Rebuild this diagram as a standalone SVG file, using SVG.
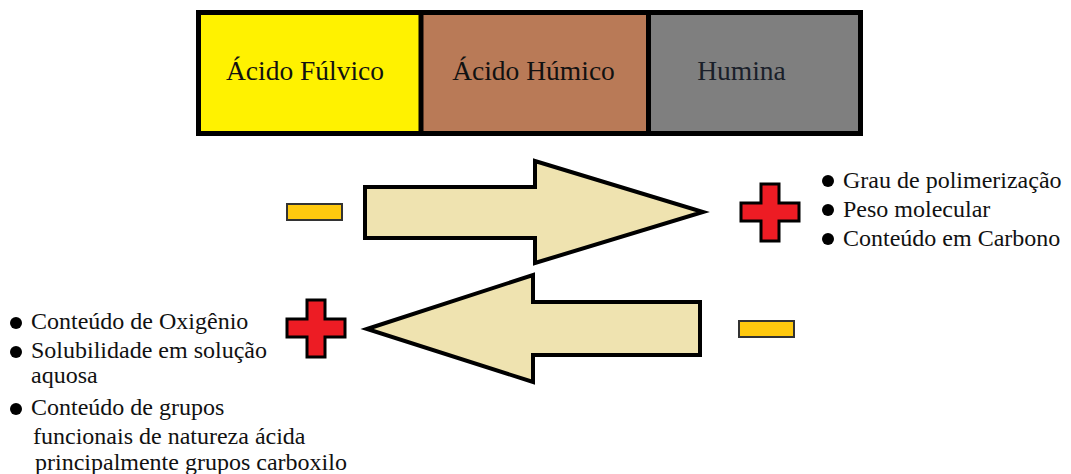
<svg xmlns="http://www.w3.org/2000/svg" width="1071" height="474" viewBox="0 0 1071 474">
<style>
text{font-family:"Liberation Serif","Times New Roman",serif;fill:#111;}
.h{font-size:27.5px;}
.b{font-size:24px;}
.arrow{fill:#efe3b0;stroke:#000;stroke-width:4;stroke-linejoin:miter;}
.minus{fill:#ffc90e;stroke:#333;stroke-width:2;}
.plus{fill:#ed1c24;stroke:#000;stroke-width:3;stroke-linejoin:miter;}
.dot{fill:#000;}
</style>
<rect width="1071" height="474" fill="#fff"/>
<g id="scale">
  <g id="fulvico">
    <rect x="198.5" y="12.5" width="222" height="121" fill="#fff200"/>
    <text class="h" x="305" y="80" text-anchor="middle">Ácido Fúlvico</text>
  </g>
  <g id="humico">
    <rect x="420.5" y="12.5" width="228" height="121" fill="#b97a57"/>
    <text class="h" x="533.5" y="80" text-anchor="middle">Ácido Húmico</text>
  </g>
  <g id="humina">
    <rect x="648.5" y="12.5" width="212" height="121" fill="#7f7f7f"/>
    <text class="h" x="741.5" y="80" text-anchor="middle" style="fill:#1a1f2a">Humina</text>
  </g>
  <rect x="198.5" y="12.5" width="662" height="121" fill="none" stroke="#000" stroke-width="5"/>
  <line x1="421" y1="12" x2="421" y2="134" stroke="#000" stroke-width="5"/>
  <line x1="648.5" y1="12" x2="648.5" y2="134" stroke="#000" stroke-width="5"/>
</g>
<g id="connectors">
  <polygon class="arrow" points="365,187 535,187 535,161 703,212 535,263 535,238 365,238"/>
  <polygon class="arrow" points="367,329 533,275 533,302 700,302 700,355 533,355 533,382"/>
</g>
<g id="minus-left">
  <rect class="minus" x="287" y="204" width="55" height="16"/>
</g>
<g id="minus-right">
  <rect class="minus" x="739" y="321" width="55" height="16"/>
</g>
<g id="plus-right">
  <polygon class="plus" points="761,184 779,184 779,203 799,203 799,221 779,221 779,241 761,241 761,221 741,221 741,203 761,203"/>
</g>
<g id="plus-left">
  <polygon class="plus" points="307,300 325,300 325,319 345,319 345,337 325,337 325,357 307,357 307,337 287,337 287,319 307,319"/>
</g>
<g id="list-right">
  <circle class="dot" cx="828" cy="181" r="6"/>
  <circle class="dot" cx="828" cy="210" r="6"/>
  <circle class="dot" cx="828" cy="239" r="6"/>
  <text class="b" x="843" y="188">Grau de polimerização</text>
  <text class="b" x="843" y="217">Peso molecular</text>
  <text class="b" x="843" y="246">Conteúdo em Carbono</text>
</g>
<g id="list-left">
  <circle class="dot" cx="16" cy="323" r="6"/>
  <circle class="dot" cx="16" cy="352" r="6"/>
  <circle class="dot" cx="16" cy="409" r="6"/>
  <text class="b" x="31" y="329">Conteúdo de Oxigênio</text>
  <text class="b" x="31" y="358">Solubilidade em solução</text>
  <text class="b" x="31" y="383">aquosa</text>
  <text class="b" x="31" y="415">Conteúdo de grupos</text>
  <text class="b" x="33" y="444">funcionais de natureza ácida</text>
  <text class="b" x="35" y="470">principalmente grupos carboxilo</text>
</g>
</svg>
